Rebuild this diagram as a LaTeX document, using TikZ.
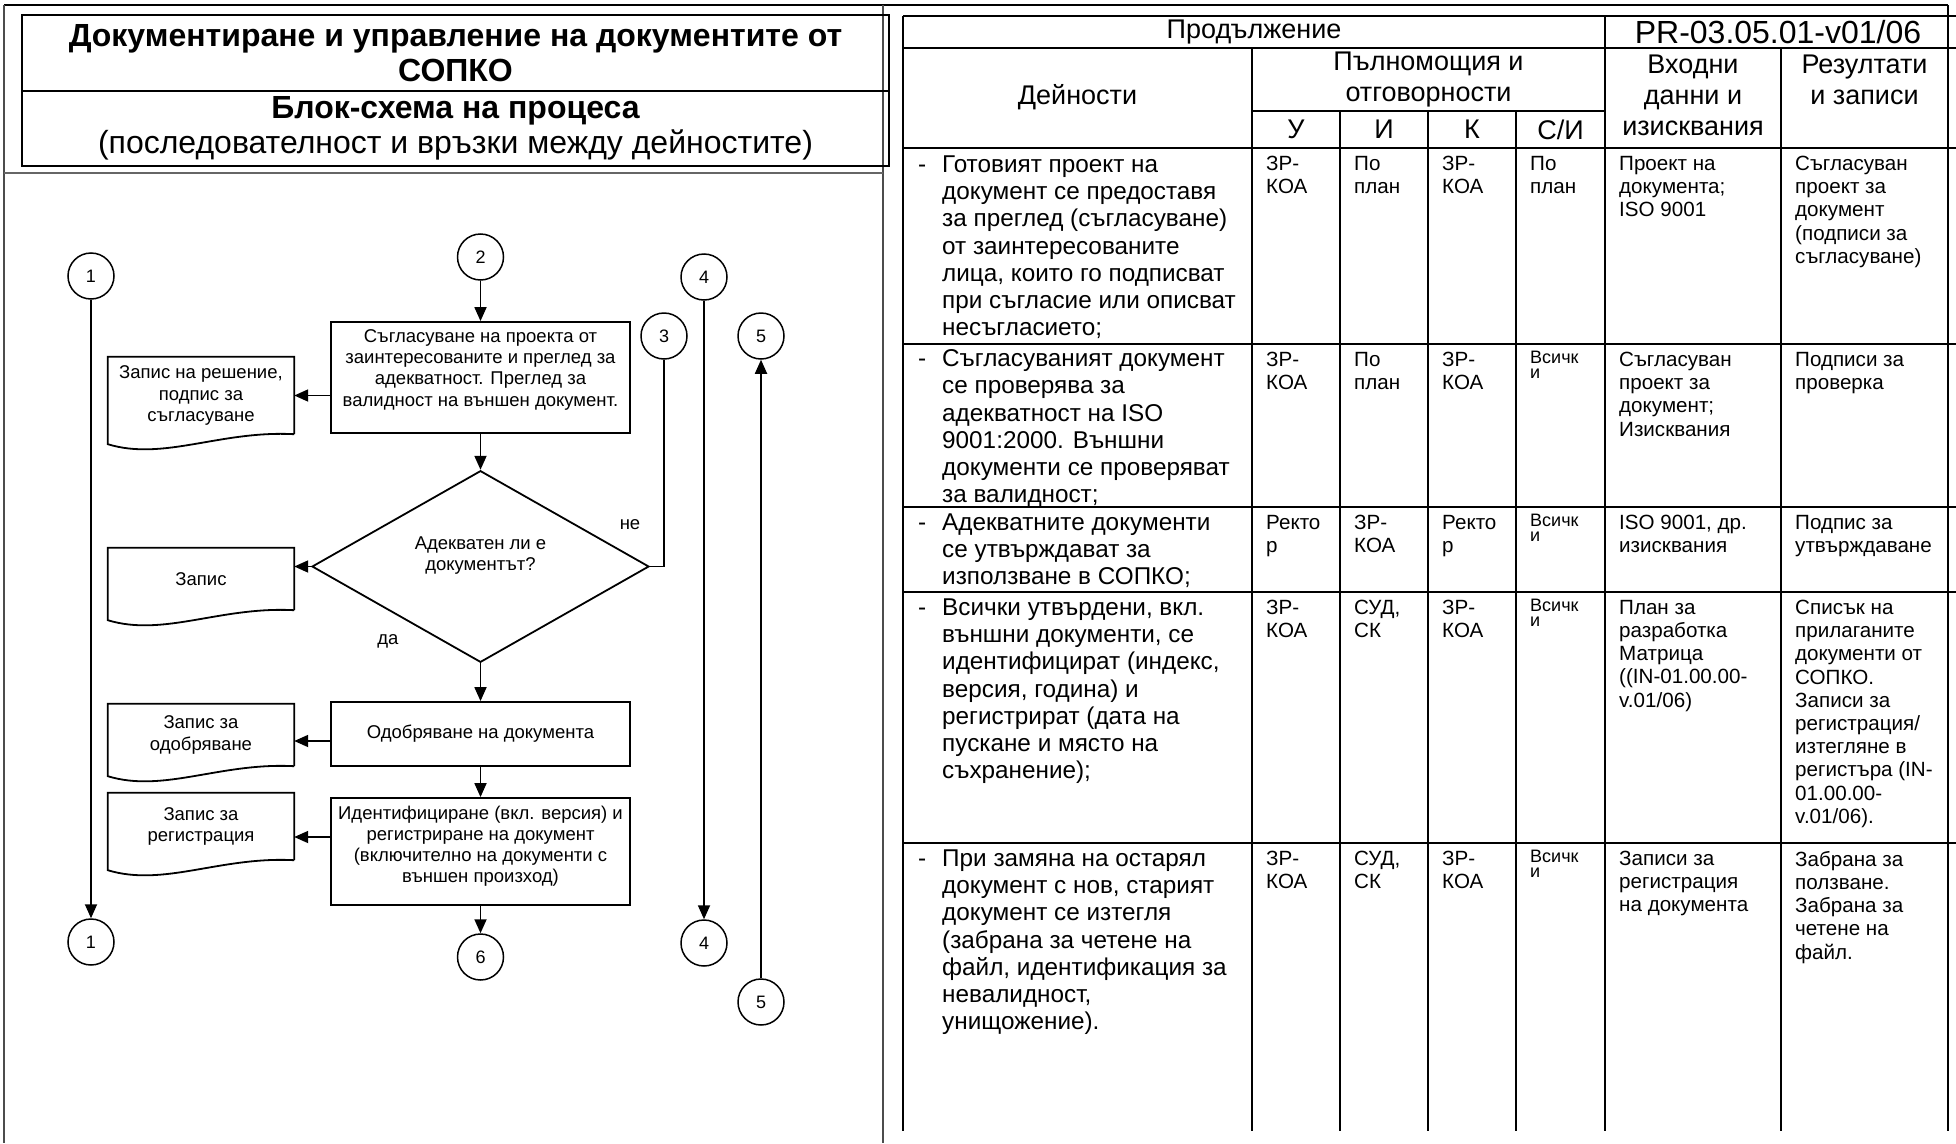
\documentclass[tikz,border=0pt]{standalone}
\usepackage{fontspec}
\setmainfont{Liberation Sans}
\usetikzlibrary{arrows.meta,shapes.geometric,calc}
\newcommand\docpath[1]{\draw[ln] (#1.south east) -- (#1.north east) -- (#1.north west) -- ($(#1.south west)+(0,10)$) .. controls ($(#1.south west)+(56,27)$) and ($(#1.south east)+(-74,-4)$) .. (#1.south east);}
\newcommand\dash{\makebox[0pt][r]{-\hspace{16pt}}}
\begin{document}
\begin{tikzpicture}[x=1pt,y=-1pt,
  fc/.style={font=\fontsize{18.5}{21.2}\selectfont},
  ln/.style={line width=1.8pt},
  pbox/.style={draw, ln, minimum width=299pt, align=center, inner sep=2pt, fc},
  conn/.style={draw, circle, line width=1.5pt, minimum size=46pt, inner sep=0pt, font=\fontsize{18}{20}\selectfont},
  docn/.style={minimum width=186pt, inner sep=0pt, align=center, fc},
  arr/.style={ln, -{Triangle[length=14pt,width=12pt]}},
  tl/.style={line width=2.4pt},
  frame/.style={line width=2.6pt, black!70},
  titlebox/.style={draw, line width=2.2pt, minimum width=867pt, inner sep=0pt, align=center, font=\fontsize{32}{35}\selectfont},
  tmain/.style={anchor=north west, inner sep=0pt, align=left, font=\fontsize{24.3}{27.2}\selectfont},
  tsmall/.style={anchor=north west, inner sep=0pt, align=left, font=\fontsize{20.6}{23.2}\selectfont},
  ttiny/.style={anchor=north west, inner sep=0pt, align=left, font=\fontsize{18}{15}\selectfont},
  thead/.style={inner sep=0pt, align=center, font=\fontsize{27}{31}\selectfont}
]
\useasboundingbox (0,0) rectangle (1956,1143);
% outer frame
\draw[line width=2.4pt] (4,5) -- (1948,5);
\draw[frame] (4,5) -- (4,1143);
\draw[frame, line width=2pt] (883,5) -- (883,1143);
\draw[frame, line width=2.4pt, black!60] (4,173) -- (883,173);
% title
\node[titlebox, minimum height=76pt, font=\fontsize{32}{35}\selectfont\bfseries] (title) at (455.5,53) {Документиране и управление на документите от\\СОПКО};
\node[titlebox, minimum height=75pt] (sub) at (455.5,128.5) {{\bfseries Блок-схема на процеса}\\(последователност и връзки между дейностите)};

% flowchart
\node[conn] (c1t) at (91,276) {1};
\node[conn] (c2) at (480.5,257) {2};
\node[conn] (c4t) at (704,277) {4};
\node[conn] (c3) at (664,336) {3};
\node[conn] (c5t) at (761,336) {5};
\node[conn] (c1b) at (91,942) {1};
\node[conn] (c6) at (480.5,957) {6};
\node[conn] (c4b) at (704,943) {4};
\node[conn] (c5b) at (761,1002) {5};

\node[pbox, minimum height=111pt] (box1) at (480.5,377.5) {Съгласуване на проекта от\\заинтересованите и преглед за\\адекватност. Преглед за\\валидност на външен документ.\\[-2pt]};
\node[draw, diamond, ln, minimum width=337pt, minimum height=191pt, inner sep=0pt, align=center, fc] (dia) at (480.5,566.5) {Адекватен ли е\\документът?\\[5pt]};
\node[pbox, minimum height=64pt] (box2) at (480.5,734) {Одобряване на документа\\[-16pt]};
\node[pbox, minimum height=107pt] (box3) at (480.5,851.5) {Идентифициране (вкл. версия) и\\регистриране на документ\\(включително на документи с\\външен произход)\\[-7pt]};

\node[docn, minimum height=77pt] (doc1) at (201,395.5) {Запис на решение,\\подпис за\\съгласуване};
\node[docn, minimum height=62pt] (doc2) at (201,579) {Запис};
\node[docn, minimum height=62pt] (doc3) at (201,735) {Запис за\\одобряване};
\node[docn, minimum height=67pt] (doc4) at (201,826.5) {Запис за\\регистрация};
\docpath{doc1}
\docpath{doc2}
\docpath{doc3}
\docpath{doc4}

\coordinate (ya3) at (0,741);
\coordinate (ya4) at (0,837);
\draw[arr] (c2.south) -- (box1.north);
\draw[arr] (box1.south) -- (dia.north);
\draw[arr] (dia.south) -- (box2.north);
\draw[arr] (box2.south) -- (box3.north);
\draw[arr] (box3.south) -- (c6.north);
\draw[arr] (box1.west |- doc1.east) -- (doc1.east);
\draw[arr] (dia.west) -- (dia.west -| doc2.east);
\draw[arr] (box2.west |- ya3) -- (doc3.east |- ya3);
\draw[arr] (box3.west |- ya4) -- (doc4.east |- ya4);
\draw[arr] (c1t.south) -- (c1b.north);
\draw[arr] (c4t.south) -- (c4b.north);
\draw[arr] (c5b.north) -- (c5t.south);
\draw[ln] (dia.east) -| (c3.south);
\node[fc] (ne) at (630,525) {не};
\node[fc] (da) at (388,641) {да};

% table lines
\foreach \y in {16,48,148,344,507,592,843} \draw[tl] (903,\y) -- (1956,\y);
\draw[tl] (1252,111) -- (1605,111);
\draw[tl] (903,16) -- (903,1131);
\draw[tl] (1252,48) -- (1252,1131);
\foreach \x in {1340,1428,1516} \draw[tl] (\x,111) -- (\x,1131);
\draw[tl] (1605,16) -- (1605,1131);
\draw[tl] (1781,48) -- (1781,1131);
\draw[tl] (1948,5) -- (1948,1131);

% table header
\node[thead] (h1) at (1254,32) {Продължение};
\node[thead, font=\fontsize{32}{31}\selectfont] (h2) at (1778,32) {PR-03.05.01-v01/06};
\node[thead] (h3) at (1077.5,97) {Дейности};
\node[thead] (h4) at (1428.5,79.5) {Пълномощия и\\отговорности};
\node[thead] (hu) at (1296,129.5) {У};
\node[thead] (hi) at (1384,129.5) {И};
\node[thead] (hk) at (1472,129.5) {К};
\node[thead] (hs) at (1560.5,129.5) {С/И};
\node[thead] (h5) at (1693,95) {Входни\\данни и\\изисквания};
\node[thead] (h6) at (1864.5,79.5) {Резултати\\и записи};

% row 1
\node[tmain] (r1a) at (942,155.5) {\dash Готовият проект на\\документ се предоставя\\за преглед (съгласуване)\\от заинтересованите\\лица, които го подписват\\при съгласие или описват\\несъгласието;};
\node[tsmall] (r1u) at (1266,156) {ЗР-\\КОА};
\node[tsmall] (r1i) at (1354,156) {По\\план};
\node[tsmall] (r1k) at (1442,156) {ЗР-\\КОА};
\node[tsmall] (r1s) at (1530,156) {По\\план};
\node[tsmall] (r1v) at (1619,156) {Проект на\\документа;\\ISO 9001};
\node[tsmall] (r1r) at (1795,156) {Съгласуван\\проект за\\документ\\(подписи за\\съгласуване)};
% row 2
\node[tmain] (r2a) at (942,349.5) {\dash Съгласуваният документ\\се проверява за\\адекватност на ISO\\9001:2000. Външни\\документи се проверяват\\за валидност;};
\node[tsmall] (r2u) at (1266,352) {ЗР-\\КОА};
\node[tsmall] (r2i) at (1354,352) {По\\план};
\node[tsmall] (r2k) at (1442,352) {ЗР-\\КОА};
\node[ttiny] (r2s) at (1530,351) {Всичк\\и};
\node[tsmall] (r2v) at (1619,352) {Съгласуван\\проект за\\документ;\\Изисквания};
\node[tsmall] (r2r) at (1795,352) {Подписи за\\проверка};
% row 3
\node[tmain] (r3a) at (942,513.5) {\dash Адекватните документи\\се утвърждават за\\използване в СОПКО;};
\node[tsmall] (r3u) at (1266,515) {Ректо\\р};
\node[tsmall] (r3i) at (1354,515) {ЗР-\\КОА};
\node[tsmall] (r3k) at (1442,515) {Ректо\\р};
\node[ttiny] (r3s) at (1530,514) {Всичк\\и};
\node[tsmall] (r3v) at (1619,515) {ISO 9001, др.\\изисквания};
\node[tsmall] (r3r) at (1795,515) {Подпис за\\утвърждаване};
% row 4
\node[tmain] (r4a) at (942,598.5) {\dash Всички утвърдени, вкл.\\външни документи, се\\идентифицират (индекс,\\версия, година) и\\регистрират (дата на\\пускане и място на\\съхранение);};
\node[tsmall] (r4u) at (1266,600) {ЗР-\\КОА};
\node[tsmall] (r4i) at (1354,600) {СУД,\\СК};
\node[tsmall] (r4k) at (1442,600) {ЗР-\\КОА};
\node[ttiny] (r4s) at (1530,599) {Всичк\\и};
\node[tsmall] (r4v) at (1619,600) {План за\\разработка\\Матрица\\((IN-01.00.00-\\v.01/06)};
\node[tsmall] (r4r) at (1795,600) {Списък на\\прилаганите\\документи от\\СОПКО.\\Записи за\\регистрация/\\изтегляне в\\регистъра (IN-\\01.00.00-\\v.01/06).};
% row 5
\node[tmain] (r5a) at (942,849.5) {\dash При замяна на остарял\\документ с нов, старият\\документ се изтегля\\(забрана за четене на\\файл, идентификация за\\невалидност,\\унищожение).};
\node[tsmall] (r5u) at (1266,851) {ЗР-\\КОА};
\node[tsmall] (r5i) at (1354,851) {СУД,\\СК};
\node[tsmall] (r5k) at (1442,851) {ЗР-\\КОА};
\node[ttiny] (r5s) at (1530,850) {Всичк\\и};
\node[tsmall] (r5v) at (1619,851) {Записи за\\регистрация\\на документа};
\node[tsmall] (r5r) at (1795,851) {Забрана за\\ползване.\\Забрана за\\четене на\\файл.};
\end{tikzpicture}
\end{document}
